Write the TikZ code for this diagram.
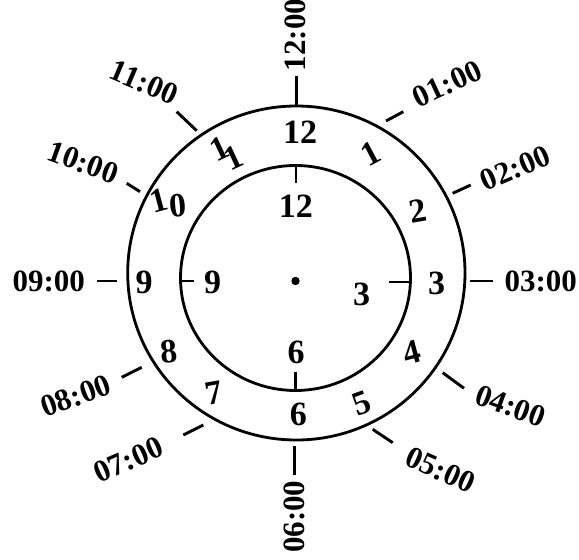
\documentclass[tikz,border=0pt]{standalone}
\usepackage{fontspec}
\setmainfont{Liberation Serif}
\begin{document}
\begin{tikzpicture}[x=1bp,y=-1bp,
  ring/.style={line width=2.8bp},
  tickline/.style={line width=2.9bp},
  hr/.style={font=\fontsize{31bp}{31bp}\selectfont\bfseries, inner sep=0pt},
  num/.style={font=\fontsize{34bp}{34bp}\selectfont\bfseries, inner sep=0pt}]
\useasboundingbox (0,0) rectangle (579,560);
% circles
\draw[ring] (296.35,273) ellipse [x radius=168.65bp, y radius=167bp];
\draw[ring] (295.5,278) ellipse [x radius=115bp, y radius=112.5bp];
\fill (295.5,281) circle [radius=4.2bp];
% outer ticks
\draw[tickline] (296.7,76) -- (296.7,106);
\draw[tickline] (386,121) -- (403.3,111.7);
\draw[tickline] (452.7,193.3) -- (470.7,185);
\draw[tickline] (470,281) -- (493.3,281);
\draw[tickline] (442.7,372.7) -- (464,388.3);
\draw[tickline] (372.7,429.3) -- (392.7,442.7);
\draw[tickline] (294.3,446) -- (294.3,475);
\draw[tickline] (183.3,435) -- (203.3,425);
\draw[tickline] (121.7,377.3) -- (141.7,367.3);
\draw[tickline] (96.7,281) -- (117.3,281);
\draw[tickline] (126.7,183.3) -- (140,191.7);
\draw[tickline] (176.7,111.7) -- (196.7,130.7);
% inner ticks
\draw[tickline] (296,165.7) -- (296,183);
\draw[tickline] (180,281) -- (194,281);
\draw[tickline] (389.3,282) -- (410,282);
\draw[tickline] (295.7,371.7) -- (295.7,390.7);
% hour labels
\node[hr, rotate=90] (h12) at (295,35) {12:00};
\node[hr, rotate=25] (h1) at (447.3,84) {01:00};
\node[hr, rotate=23] (h2) at (515.3,168) {02:00};
\node[hr] (h3) at (540.7,281.5) {03:00};
\node[hr, rotate=-20] (h4) at (510.5,406) {04:00};
\node[hr, rotate=-24] (h5) at (440.5,470) {05:00};
\node[hr, rotate=90] (h6) at (294,516.7) {06:00};
\node[hr, rotate=24] (h7) at (128.3,460) {07:00};
\node[hr, rotate=20] (h8) at (75.8,396) {08:00};
\node[hr] (h9) at (48.8,281) {09:00};
\node[hr, rotate=-20] (h10) at (83.3,162.5) {10:00};
\node[hr, rotate=-23] (h11) at (144.2,82.5) {11:00};
% outer ring numbers
\node[num] (o12) at (300,132.5) {12};
\node[num, rotate=28] (o1) at (370.8,154) {1};
\node[num, rotate=10] (o2) at (418,211) {2};
\node[num] (o3) at (436.7,283.3) {3};
\node[num, rotate=15] (o4) at (411.7,352.5) {4};
\node[num, rotate=20] (o5) at (361.7,403.3) {5};
\node[num] (o6) at (298.3,414.2) {6};
\node[num, rotate=10] (o7) at (214,393.3) {7};
\node[num, rotate=5] (o8) at (169,351.7) {8};
\node[num] (o9) at (144,282.8) {9};
\node[num, rotate=15] (o10a) at (159.2,200) {1};
\node[num, rotate=5] (o10b) at (177.5,205.8) {0};
\node[num, rotate=25] (o11a) at (219.2,149.2) {1};
\node[num, rotate=25] (o11b) at (233.3,157.5) {1};
% inner numbers
\node[num] (i12) at (295.8,206.7) {12};
\node[num] (i9) at (212.5,282.8) {9};
\node[num] (i3) at (361.7,294.2) {3};
\node[num] (i6) at (296,352.3) {6};
\end{tikzpicture}
\end{document}
